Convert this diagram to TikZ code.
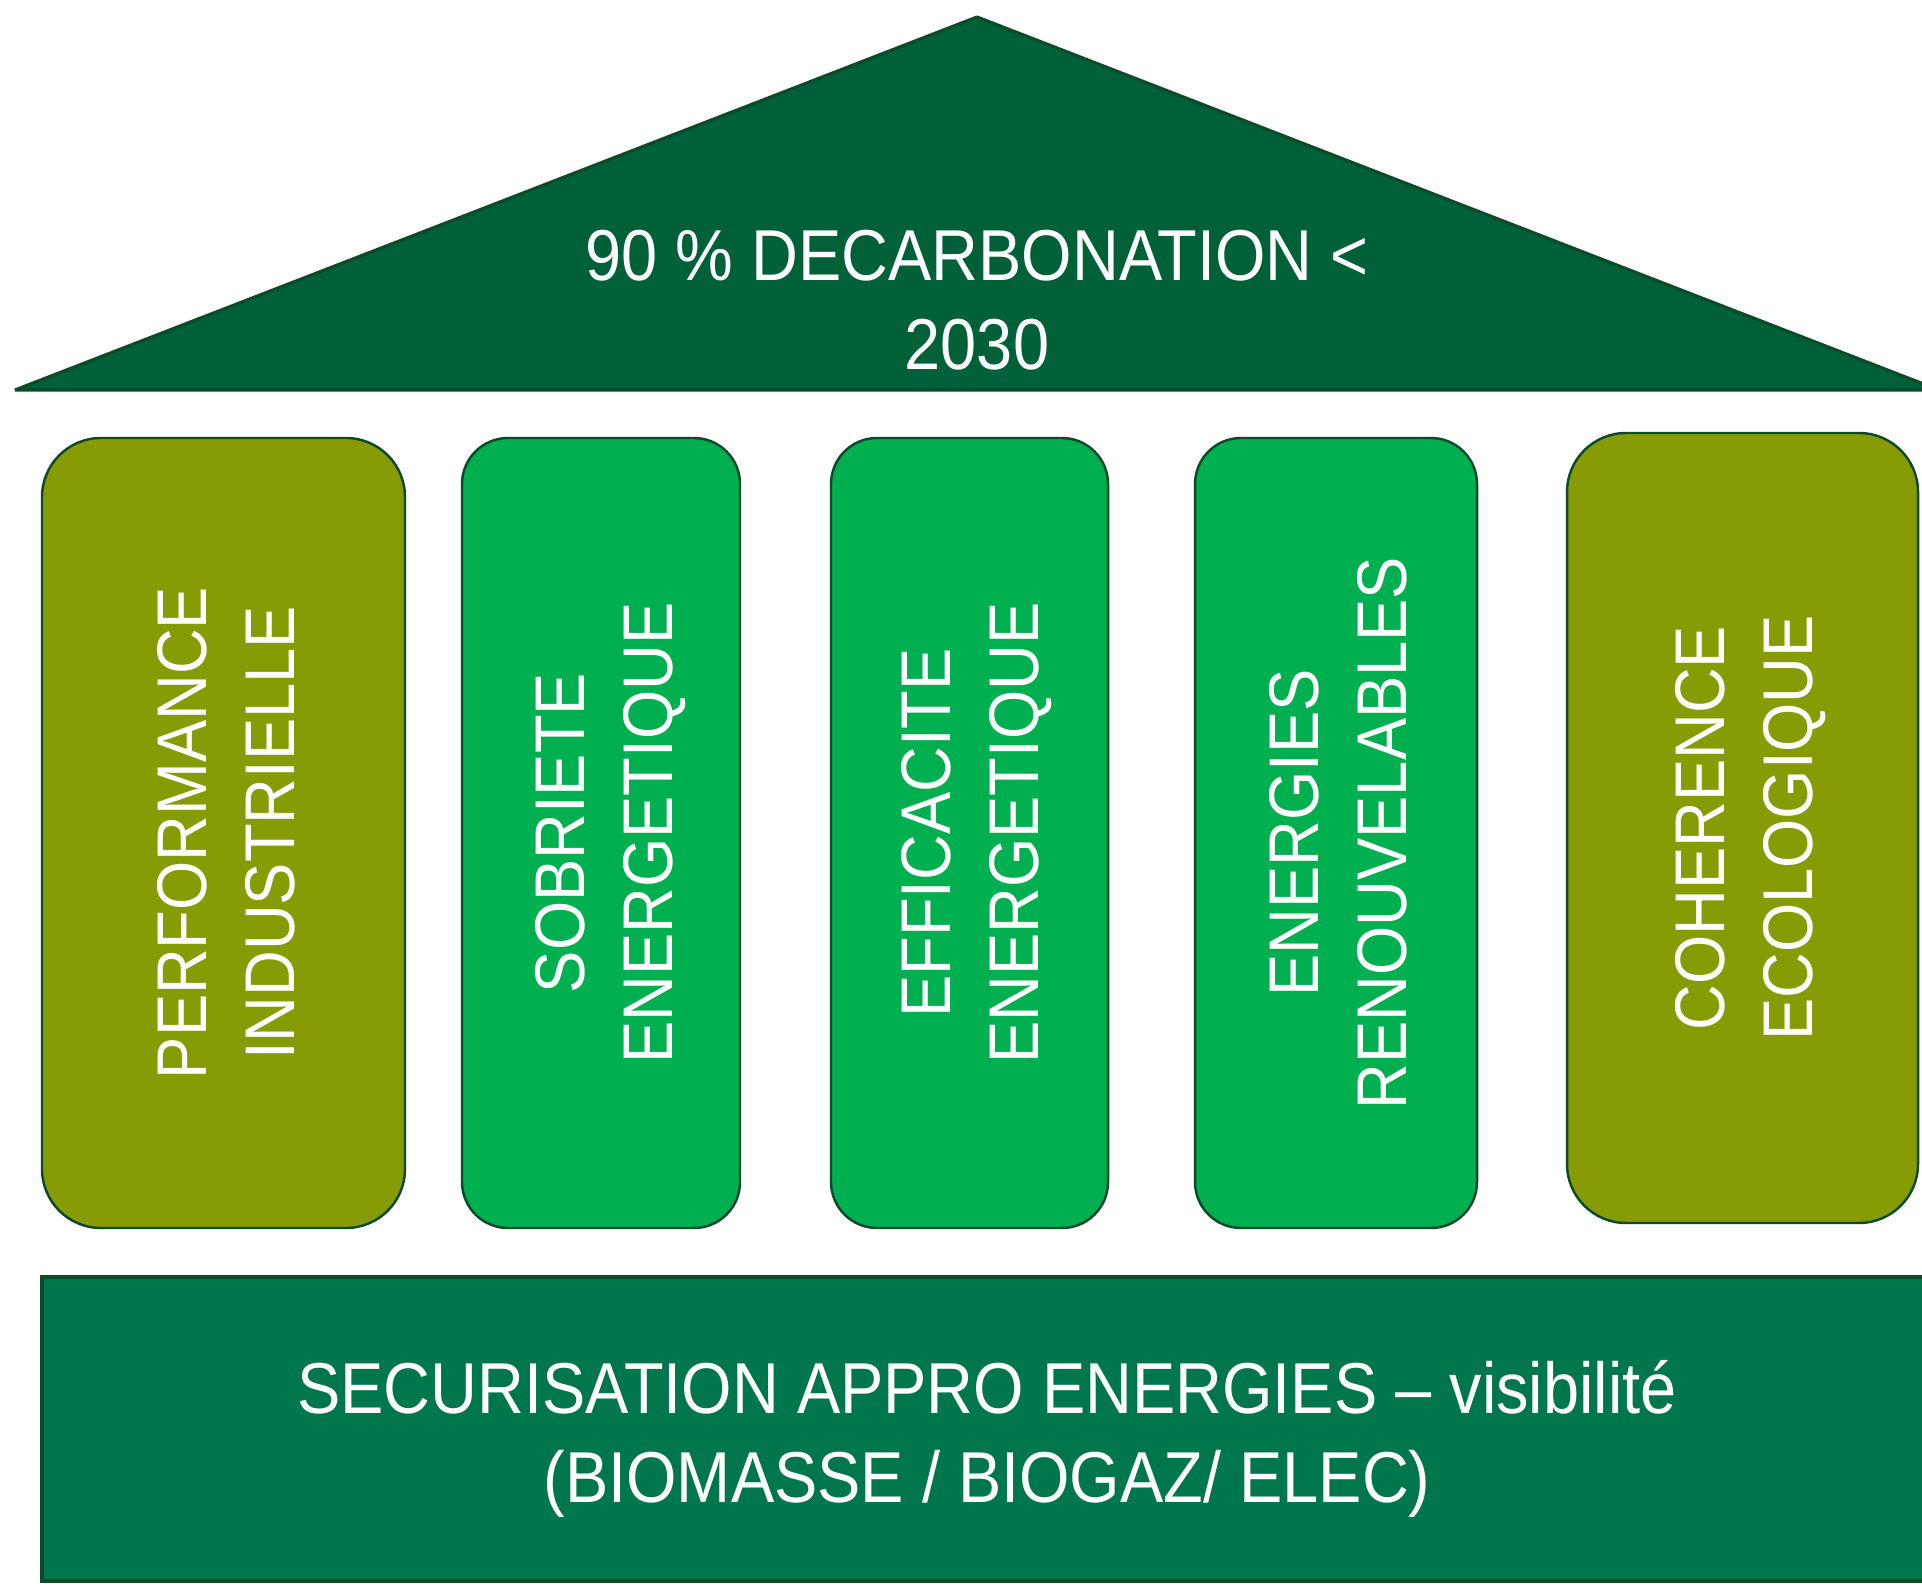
\documentclass[tikz,border=0pt]{standalone}
\usepackage{fontspec}
\setmainfont{Liberation Sans}[FakeStretch=0.9]
\usepackage{tikz}
\usetikzlibrary{positioning}

\definecolor{roofgreen}{HTML}{006139}
\definecolor{olive}{HTML}{879C04}
\definecolor{leafgreen}{HTML}{00AF50}
\definecolor{basegreen}{HTML}{00764C}
\definecolor{edgegreen}{HTML}{0D4A2A}

\begin{document}
\begin{tikzpicture}[
			x=0.01cm, y=-0.01cm,
			every node/.style={text=white, font=\fontsize{20.5}{25.3}\selectfont, align=center},
			pillar/.style={draw=edgegreen, line width=0.7pt},
			pillartext/.style={rotate=90, font=\fontsize{20}{25}\selectfont}
			]
			\useasboundingbox (0,0) rectangle (1922,1592);

			% toit
			\draw[fill=roofgreen,draw=edgegreen,line width=0.9pt,line join=bevel] (15,390) -- (977,17) -- (1939,390) -- cycle;
			\node (roof) at (977,300) {90 \% DECARBONATION <\\2030};

			% piliers
			\draw[pillar,fill=olive,rounded corners=0.59cm] (42,438) rectangle (405,1228);
			\draw[pillar,fill=leafgreen,rounded corners=0.46cm] (462,438) rectangle (740,1228);
			\draw[pillar,fill=leafgreen,rounded corners=0.46cm] (831,438) rectangle (1108,1228);
			\draw[pillar,fill=leafgreen,rounded corners=0.46cm] (1195,438) rectangle (1477,1228);
			\draw[pillar,fill=olive,rounded corners=0.59cm] (1567,433) rectangle (1918,1223);

			\node[pillartext] (perf) at (226,833) {PERFORMANCE\\INDUSTRIELLE};
			\node[pillartext] (sobr) at (611,833) {SOBRIETE\\ENERGETIQUE};
			\node[pillartext] (effi) at (977,833) {EFFICACITE\\ENERGETIQUE};
			\node[pillartext] (enr) at (1338,833) {ENERGIES\\RENOUVELABLES};
			\node[pillartext] (eco) at (1751,828) {COHERENCE\\ECOLOGIQUE};

			% socle
			\draw[fill=basegreen,draw=edgegreen,line width=0.9pt] (42,1277) rectangle (1932,1581);
			\node (base) at (987,1439) {SECURISATION APPRO ENERGIES – visibilité\\(BIOMASSE / BIOGAZ/ ELEC)};

			\end{tikzpicture}
\end{document}
